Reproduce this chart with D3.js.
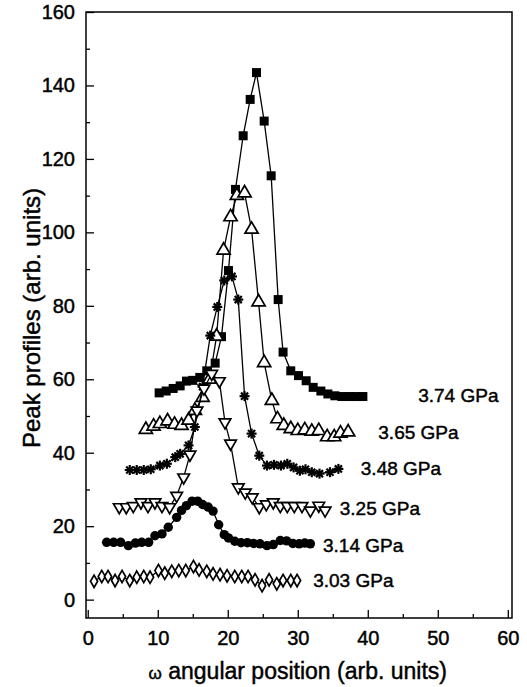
<!DOCTYPE html>
<meta charset="utf-8">
<head>
<script src="https://d3js.org/d3.v7.min.js"></script>
<style>
body { margin: 0; background: #fff; }
text { font-family: "Liberation Sans", Arial, sans-serif; fill: #000; stroke: #000; stroke-width: 0.45px; }
</style>
</head>
<body>
<div id="chart"></div>
<script>
// series labels (pressure)
var labels = ["3.74 GPa", "3.65 GPa", "3.48 GPa", "3.25 GPa", "3.14 GPa", "3.03 GPa"];

// 3.74 GPa - filled squares
var x374 = [10.2, 11.2, 12.2, 13.2, 14.1, 15, 16, 17, 18.2, 19.1, 20.1, 21.1, 22.2, 23.2, 24.1, 25.2, 26.2, 27.2, 27.9, 29, 30.1, 31.2, 32.2, 33.3, 34.3, 35.3, 36.3, 37.3, 38.3, 39.3];
var y374 = [56.3, 56.8, 57.5, 58.2, 59.5, 59.7, 60.5, 62.3, 64.4, 71.6, 89.6, 111.7, 126.3, 136.2, 143.5, 130.3, 115.4, 81.7, 67.4, 62.3, 61, 59.6, 57.8, 56.8, 56, 55.5, 55.3, 55.3, 55.3, 55.3];

// 3.65 GPa - open up triangles
var x365 = [8.3, 9.4, 10.3, 11.4, 12.4, 13.4, 14.4, 15.3, 16.4, 17.4, 18.4, 19.4, 20.4, 21.3, 22.4, 23.4, 24.4, 25.2, 26.3, 27.1, 28, 29, 30, 31, 32, 33, 34.2, 35.2, 36.1, 37.2];
var y365 = [46.3, 47.2, 47.9, 48.6, 47.7, 47.4, 48.8, 51.5, 55, 60, 71.7, 95.1, 104.2, 110, 110.7, 100.8, 81, 64.5, 54.2, 49.2, 47.4, 46.5, 46, 46.2, 45.8, 46, 44.3, 44.3, 45.3, 45.6];

// 3.48 GPa - asterisks
var x348 = [6, 7, 8, 9, 10.3, 11.3, 12.5, 13.2, 14.4, 15.3, 16.4, 17.5, 18.5, 19.5, 20.6, 21.5, 22.4, 23.4, 24.5, 25.6, 26.6, 27.6, 28.5, 29.4, 30.3, 31.1, 32, 33.1, 34.6, 35.8];
var y348 = [35.3, 35.3, 35.3, 35.5, 36.5, 37, 38.8, 39.7, 42, 47, 58, 71.9, 79.7, 86.9, 88, 81.7, 55.4, 45.2, 39.2, 36.5, 36.7, 36.5, 37, 36, 35.1, 35.5, 34.7, 34.3, 34.7, 35.6];

// 3.25 GPa - open down triangles
var x325 = [4.5, 5.5, 6.5, 7.6, 8.6, 9.6, 10.6, 11.7, 12.7, 13.7, 14.6, 15.6, 16.6, 17.7, 18.8, 19.6, 20.4, 21.5, 22.5, 23.5, 24.5, 25.5, 26.5, 27.5, 28.5, 29.5, 30.6, 31.8, 33, 33.9];
var y325 = [25.2, 25.2, 25.5, 26.5, 25.5, 26.5, 25.5, 25.2, 28.3, 33.3, 39.5, 51.5, 57.5, 61.5, 59.5, 48.3, 42.5, 30.6, 29.2, 27.9, 25.2, 26, 26.5, 25.5, 25.5, 25.5, 25.5, 24.3, 25.6, 24.3];

// 3.14 GPa - filled circles
var x314 = [2.7, 3.7, 4.7, 5.8, 6.8, 7.7, 8.7, 9.6, 10.6, 11.5, 12.7, 13.4, 14.1, 14.9, 15.7, 16.4, 17.2, 17.9, 18.7, 19.5, 20.1, 21, 21.9, 22.8, 23.7, 24.6, 25.6, 26.5, 27.5, 28.4, 29.3, 30.2, 31, 31.8];
var y314 = [15.6, 15.6, 15.6, 14.7, 15.4, 15.6, 15.6, 17.4, 17.9, 19.7, 22.4, 24.3, 25.6, 26.8, 26.8, 25.9, 25.2, 24.1, 20.4, 17.7, 16.8, 15.9, 15.5, 15.5, 15.3, 15.2, 14.7, 15, 16.1, 16, 15.3, 15.2, 15.4, 15.2];

// 3.03 GPa - open diamonds
var x303 = [0.9, 2, 2.9, 3.9, 4.9, 6, 7, 8, 8.9, 10.1, 11, 12, 13, 14, 15.1, 15.9, 17, 17.9, 18.9, 19.9, 21, 22, 22.9, 23.9, 24.9, 25.9, 27, 27.9, 29, 29.9];
var y303 = [5, 6.3, 6.3, 5.2, 6.3, 5.2, 6.1, 6.3, 6.1, 7.9, 7.2, 7.7, 7.9, 7.9, 9, 8.1, 7.7, 7, 6.8, 6.5, 6.3, 6.3, 6.3, 5.4, 3.8, 5.4, 4.3, 5.2, 5.2, 5.2];

// where each pressure label sits (data units)
var labelX = [47.2, 41.5, 39, 36, 33.6, 32.2];
var labelY = [55.6, 45.5, 35.7, 24.8, 14.7, 5.2];

var xTicks = [0, 10, 20, 30, 40, 50, 60];
var yTicks = [0, 20, 40, 60, 80, 100, 120, 140, 160];

var W = 527, H = 687;
var margin = {top: 12, right: 15, bottom: 69, left: 86},
    width = W - margin.left - margin.right,
    height = H - margin.top - margin.bottom;

var svg = d3.select("#chart").append("svg")
    .attr("width", W).attr("height", H)
  .append("g")
    .attr("transform", "translate(" + margin.left + "," + margin.top + ")");

var x = d3.scaleLinear().domain([-0.25, 60.6]).range([0, width]);
var y = d3.scaleLinear().domain([-5, 160]).range([height, 0]);

// frame
svg.append("rect")
    .attr("width", width).attr("height", height)
    .attr("fill", "none").attr("stroke", "#000").attr("stroke-width", 1.5);

function styleTicks(g) {
  g.select(".domain").remove();
  g.selectAll("line").attr("stroke-width", 1.3);
  g.selectAll("text").style("font-size", "20px").style("font-family", "Liberation Sans, Arial, sans-serif");
}

// x axis: inward major + minor ticks
var xMinor = d3.range(5, 60, 10);
svg.append("g").attr("transform", "translate(0," + height + ")")
    .call(d3.axisBottom(x).tickValues(xMinor).tickSize(-4).tickFormat(""))
    .call(styleTicks);
svg.append("g").attr("transform", "translate(0," + height + ")")
    .call(d3.axisBottom(x).tickValues(xTicks).tickSize(-8).tickPadding(13))
    .call(styleTicks);

// y axis
var yMinor = d3.range(10, 160, 20);
svg.append("g")
    .call(d3.axisLeft(y).tickValues(yMinor).tickSize(-4).tickFormat(""))
    .call(styleTicks);
svg.append("g")
    .call(d3.axisLeft(y).tickValues(yTicks).tickSize(-8).tickPadding(11))
    .call(styleTicks);

// axis titles
var xt = svg.append("text")
    .attr("x", x(30)).attr("y", height + 61)
    .attr("text-anchor", "middle")
    .style("font-size", "23px");
xt.append("tspan").style("font-size", "17px").text("ω");
xt.append("tspan").text(" angular position (arb. units)");

svg.append("text")
    .attr("transform", "translate(" + (-46) + "," + 306 + ") rotate(-90)")
    .attr("text-anchor", "middle")
    .style("font-size", "24px")
    .text("Peak profiles  (arb. units)");

var line = d3.line().x(function(d) { return x(d[0]); }).y(function(d) { return y(d[1]); });

var series = [
  {xs: x374, ys: y374, mark: "square"},
  {xs: x365, ys: y365, mark: "up"},
  {xs: x348, ys: y348, mark: "star"},
  {xs: x325, ys: y325, mark: "down"},
  {xs: x314, ys: y314, mark: "circle"},
  {xs: x303, ys: y303, mark: "diamond"}
];

series.forEach(function(s, i) {
  var pts = s.xs.map(function(v, j) { return [v, s.ys[j]]; });
  svg.append("path").datum(pts)
      .attr("d", line).attr("fill", "none").attr("stroke", "#000").attr("stroke-width", 1.3);

  var g = svg.append("g");
  var m = g.selectAll("g.pt").data(pts).enter().append("g")
      .attr("transform", function(d) { return "translate(" + x(d[0]) + "," + y(d[1]) + ")"; });

  if (s.mark === "square") {
    m.append("path").attr("d", d3.symbol(d3.symbolSquare, 81)()).attr("fill", "#000");
  } else if (s.mark === "circle") {
    m.append("path").attr("d", d3.symbol(d3.symbolCircle, 70)()).attr("fill", "#000");
  } else if (s.mark === "up") {
    m.append("path").attr("d", d3.symbol(d3.symbolTriangle, 75)())
        .attr("fill", "#fff").attr("stroke", "#000").attr("stroke-width", 1.7);
  } else if (s.mark === "down") {
    m.append("path").attr("d", d3.symbol(d3.symbolTriangle, 58)()).attr("transform", "rotate(180)")
        .attr("fill", "#fff").attr("stroke", "#000").attr("stroke-width", 1.7);
  } else if (s.mark === "diamond") {
    m.append("path").attr("d", d3.symbol(d3.symbolDiamond, 44)())
        .attr("fill", "#fff").attr("stroke", "#000").attr("stroke-width", 1.7);
  } else if (s.mark === "star") {
    [0, 45, 90, 135].forEach(function(a) {
      m.append("line").attr("x1", -5).attr("x2", 5).attr("y1", 0).attr("y2", 0)
          .attr("transform", "rotate(" + a + ")")
          .attr("stroke", "#000").attr("stroke-width", 2.2);
    });
  }

  svg.append("text")
      .attr("x", x(labelX[i])).attr("y", y(labelY[i]))
      .attr("dy", "0.35em")
      .style("font-size", "19px")
      .text(labels[i]);
});
</script>
</body>
</html>
